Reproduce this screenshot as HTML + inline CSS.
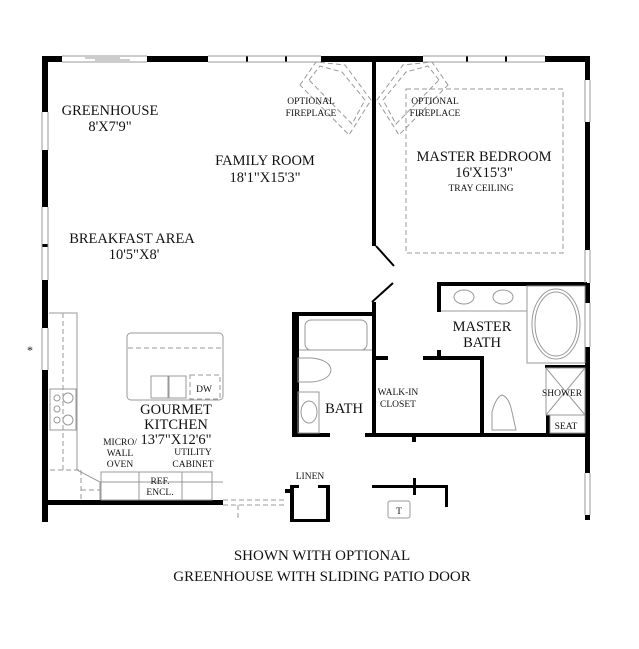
<!DOCTYPE html>
<html><head><style>
html,body{margin:0;padding:0;background:#fff;}
svg{display:block;}
text{font-family:"Liberation Serif",serif;fill:#111;}
</style></head><body>
<svg width="639" height="649" viewBox="0 0 639 649" xmlns="http://www.w3.org/2000/svg">
<g fill="#000">
<rect x="42" y="56" width="20" height="6"/>
<rect x="147" y="56" width="61" height="6"/>
<rect x="321" y="56" width="102" height="6"/>
<rect x="545" y="56" width="45" height="6"/>
<rect x="246" y="56" width="2" height="6"/><rect x="285" y="56" width="2" height="6"/>
<rect x="466" y="56" width="2" height="6"/><rect x="505" y="56" width="2" height="6"/>
<rect x="42" y="56" width="6" height="56"/>
<rect x="42" y="150" width="6" height="57"/>
<rect x="42" y="244" width="6" height="3"/>
<rect x="42" y="280" width="6" height="48"/>
<rect x="42" y="370" width="6" height="152"/>
<rect x="585" y="56" width="5" height="24"/>
<rect x="585" y="122" width="5" height="128"/>
<rect x="585" y="283" width="5" height="20"/>
<rect x="585" y="347" width="5" height="126"/>
<rect x="585" y="515" width="5" height="5"/>
<rect x="48" y="500" width="175" height="5"/>
<rect x="372" y="62" width="4" height="184"/>
<rect x="372" y="302" width="4" height="135"/>
<rect x="292" y="312" width="80" height="4"/>
<rect x="292" y="312" width="7" height="125"/>
<rect x="292" y="433" width="38" height="4"/>
<rect x="365" y="433" width="222" height="4"/>
<rect x="412" y="433" width="4" height="9"/>
<rect x="372" y="356" width="16" height="4"/>
<rect x="423" y="356" width="61" height="4"/>
<rect x="437" y="350" width="4" height="8"/>
<rect x="480" y="356" width="4" height="81"/>
<rect x="437" y="282" width="150" height="4"/>
<rect x="437" y="282" width="4" height="30"/>
<rect x="545" y="365" width="42" height="3"/>
<rect x="546" y="415" width="4" height="22"/>
<rect x="290" y="485" width="4" height="37"/>
<rect x="290" y="519" width="40" height="3"/>
<rect x="326" y="485" width="4" height="37"/>
<rect x="290" y="485" width="9" height="3"/>
<rect x="318" y="485" width="12" height="3"/>
<rect x="285" y="489" width="5" height="4"/>
<rect x="372" y="485" width="76" height="3"/>
<rect x="413" y="478" width="3" height="17"/>
<rect x="445" y="485" width="3" height="22"/>
</g>
<g stroke="#000" stroke-width="2" fill="none">
<line x1="376" y1="246" x2="394" y2="266"/>
<line x1="372" y1="302" x2="393" y2="283"/>
</g>
<g stroke="#999" stroke-width="1" fill="none">
<line x1="62" y1="56" x2="147" y2="56"/><line x1="62" y1="62" x2="147" y2="62"/>
<line x1="85" y1="58" x2="120" y2="58"/><line x1="95" y1="60" x2="130" y2="60"/>
<line x1="208" y1="56" x2="321" y2="56"/><line x1="208" y1="62" x2="321" y2="62"/>
<line x1="423" y1="56" x2="545" y2="56"/><line x1="423" y1="62" x2="545" y2="62"/>
<line x1="42" y1="112" x2="42" y2="150"/><line x1="48" y1="112" x2="48" y2="150"/>
<line x1="42" y1="207" x2="42" y2="280"/><line x1="48" y1="207" x2="48" y2="280"/>
<line x1="42" y1="328" x2="42" y2="370"/><line x1="48" y1="328" x2="48" y2="370"/>
<line x1="585" y1="80" x2="585" y2="122"/><line x1="590" y1="80" x2="590" y2="122"/>
<line x1="585" y1="250" x2="585" y2="283"/><line x1="590" y1="250" x2="590" y2="283"/>
<line x1="585" y1="303" x2="585" y2="347"/><line x1="590" y1="303" x2="590" y2="347"/>
<line x1="585" y1="473" x2="585" y2="515"/><line x1="590" y1="473" x2="590" y2="515"/>
<polyline points="49,313 77,313 77,470 100,482 100,500"/>
<polyline points="100,482 223,482"/>
<rect x="50" y="389" width="26" height="41"/>
<rect x="101" y="472" width="38" height="28"/>
<rect x="139" y="472" width="43" height="28"/>
<rect x="182" y="472" width="30" height="28"/>
<rect x="127" y="333" width="96" height="67" rx="4"/>
<rect x="151" y="376" width="17" height="22"/><rect x="169" y="376" width="17" height="22"/>
<rect x="305" y="320" width="62" height="30" rx="6"/>
<line x1="299" y1="350" x2="372" y2="350"/>
<path d="M298,358 L312,358 Q330,360 331,370 Q330,380 312,382 L298,382 Z"/>
<rect x="298" y="392" width="21" height="41"/>
<ellipse cx="309" cy="412" rx="8" ry="11"/>
<ellipse cx="464" cy="297" rx="10" ry="7"/><ellipse cx="503" cy="297" rx="10" ry="7"/>
<line x1="441" y1="311" x2="527" y2="311"/>
<rect x="527" y="286" width="58" height="77"/>
<ellipse cx="556" cy="324" rx="24" ry="35"/><ellipse cx="556" cy="324" rx="21" ry="32"/>
<rect x="546" y="368" width="39" height="47"/>
<line x1="546" y1="368" x2="585" y2="415"/><line x1="585" y1="368" x2="546" y2="415"/>
<rect x="550" y="415" width="35" height="18"/>
<path d="M492,430 L492,412 Q496,397 502,395 Q509,397 512,412 L516,430 Z"/>
<rect x="388" y="501" width="22" height="17" rx="2"/>
</g>
<g stroke="#999" stroke-width="1" fill="none" stroke-dasharray="5,3">
<line x1="63" y1="313" x2="63" y2="470"/>
<line x1="50" y1="470" x2="80" y2="470"/>
<line x1="81" y1="490" x2="100" y2="490"/>
<line x1="81" y1="470" x2="81" y2="500"/>
<line x1="128" y1="348" x2="222" y2="348"/>
<rect x="190" y="375" width="30" height="24"/>
<line x1="139" y1="472" x2="212" y2="472"/>
<line x1="223" y1="500" x2="285" y2="500"/><line x1="223" y1="505" x2="285" y2="505"/>
<line x1="238" y1="505" x2="238" y2="520"/>
<rect x="406" y="89" width="157" height="164"/>
<polygon points="300,85 316,62 345,65 371,100 349,135"/>
<polygon points="309,80 320,66 342,72 365,100 352,124"/>
<polygon points="448,85 432,62 403,65 377,100 399,135"/>
<polygon points="439,80 428,66 406,72 383,100 396,124"/>
</g>
<g font-size="14.5" text-anchor="middle">
<text x="110" y="115">GREENHOUSE</text>
<text x="110" y="131">8'X7'9"</text>
<text x="265" y="165">FAMILY ROOM</text>
<text x="265" y="182">18'1"X15'3"</text>
<text x="484" y="161">MASTER BEDROOM</text>
<text x="484" y="177">16'X15'3"</text>
<text x="132" y="243">BREAKFAST AREA</text>
<text x="134" y="259">10'5"X8'</text>
<text x="482" y="331">MASTER</text>
<text x="482" y="347">BATH</text>
<text x="344" y="413">BATH</text>
<text x="176" y="414">GOURMET</text>
<text x="176" y="429">KITCHEN</text>
<text x="176" y="444">13'7"X12'6"</text>
<text x="322" y="560" font-size="15">SHOWN WITH OPTIONAL</text>
<text x="322" y="581" font-size="15">GREENHOUSE WITH SLIDING PATIO DOOR</text>
</g>
<g font-size="9.5" text-anchor="middle">
<text x="311" y="104">OPTIONAL</text><text x="311" y="116">FIREPLACE</text>
<text x="435" y="104">OPTIONAL</text><text x="435" y="116">FIREPLACE</text>
<text x="481" y="191">TRAY CEILING</text>
<text x="398" y="395">WALK-IN</text><text x="398" y="407">CLOSET</text>
<text x="562" y="396">SHOWER</text><text x="566" y="429">SEAT</text>
<text x="204" y="392">DW</text>
<text x="120" y="445">MICRO/</text><text x="120" y="456">WALL</text><text x="120" y="467">OVEN</text>
<text x="193" y="455">UTILITY</text><text x="193" y="467">CABINET</text>
<text x="160" y="484">REF.</text><text x="160" y="495">ENCL.</text>
<text x="310" y="479">LINEN</text>
<text x="399" y="514">T</text>
<text x="30" y="354" font-size="12">*</text>
</g>
<g fill="none" stroke="#999"><circle cx="57" cy="398" r="3"/><circle cx="68" cy="398" r="5"/><circle cx="57" cy="409" r="3"/><circle cx="57" cy="420" r="3"/><circle cx="68" cy="420" r="5"/></g>
</svg>
</body></html>
